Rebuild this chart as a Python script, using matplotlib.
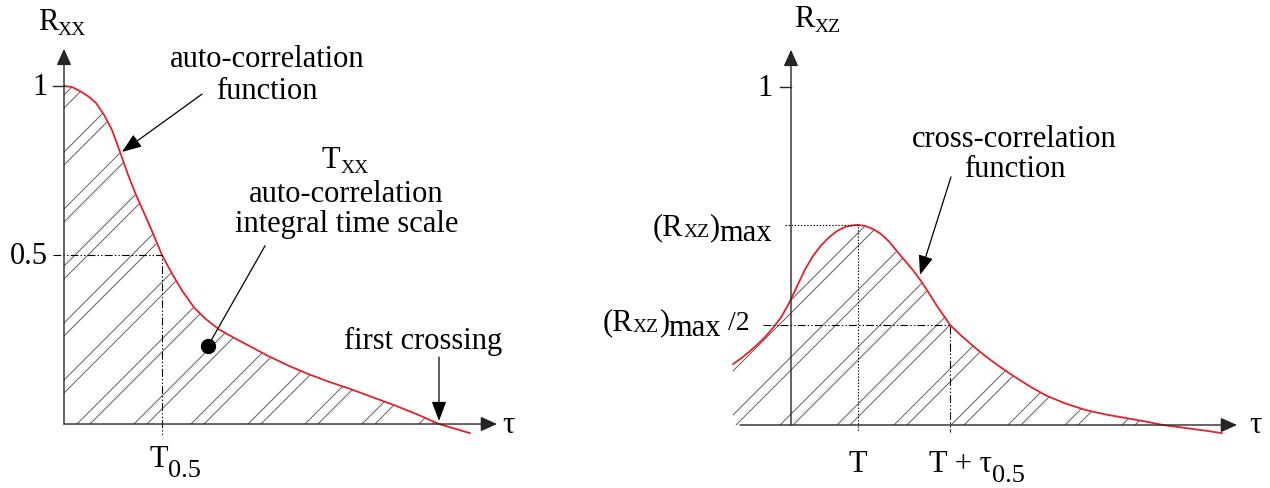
import numpy as np
import matplotlib
matplotlib.use("Agg")
import matplotlib.pyplot as plt
from matplotlib.patches import Polygon
from matplotlib.transforms import offset_copy

plt.rcParams["font.family"] = ["Liberation Serif", "DejaVu Serif"]

# auto-correlation R_xx(tau)
tau_xx = [0.0, 0.08, 0.16, 0.24, 0.32, 0.40, 0.48, 0.56, 0.64, 0.72, 0.80,
          0.88, 0.98, 1.08, 1.18, 1.30, 1.42, 1.55, 1.70, 1.86, 2.05, 2.25,
          2.45, 2.65, 2.86, 3.08, 3.30, 3.52, 3.75, 3.90, 4.06]
r_xx = [1.0, 0.997, 0.985, 0.97, 0.95, 0.915, 0.87, 0.805, 0.738, 0.678, 0.625,
        0.571, 0.50, 0.445, 0.395, 0.345, 0.31, 0.28, 0.255, 0.23, 0.20, 0.172,
        0.147, 0.125, 0.104, 0.08, 0.056, 0.03, 0.0, -0.013, -0.027]
t_half = 0.98          # T_0.5
first_cross = 3.75

# cross-correlation R_xz(tau)
tau_xz = [-0.58, -0.50, -0.42, -0.34, -0.26, -0.18, -0.10, -0.02, 0.06, 0.14,
          0.22, 0.30, 0.38, 0.46, 0.54, 0.62, 0.67, 0.74, 0.82, 0.90, 0.98,
          1.06, 1.14, 1.22, 1.30, 1.38, 1.46, 1.54, 1.59, 1.70, 1.82, 1.96,
          2.10, 2.24, 2.40, 2.56, 2.75, 2.95, 3.15, 3.36, 3.55, 3.72, 3.95,
          4.15, 4.31]
r_xz = [0.180, 0.197, 0.216, 0.237, 0.260, 0.287, 0.318, 0.360, 0.410, 0.460,
        0.500, 0.531, 0.555, 0.574, 0.586, 0.591, 0.592, 0.589, 0.580, 0.565,
        0.543, 0.514, 0.486, 0.458, 0.426, 0.390, 0.352, 0.318, 0.296, 0.265,
        0.234, 0.200, 0.170, 0.142, 0.112, 0.086, 0.063, 0.044, 0.031, 0.020,
        0.010, 0.000, -0.009, -0.017, -0.024]
t_peak = 0.67          # T
t_peak_half = 1.59     # T + tau_0.5

RED = "#e5202a"
AX = "#262626"
FS = 22
SUB = 14
DASHDOT = (0, (7, 2, 1.2, 2, 1.2, 2))
DOTTED = (0, (1.2, 1.6))

fig = plt.figure(figsize=(12.7, 4.89), dpi=100)
ax1 = fig.add_axes([0.0, 0.0, 0.5, 1.0])
ax2 = fig.add_axes([0.5, 0.0, 0.5, 1.0])
ax1.set_xlim(-0.64, 5.71)
ax1.set_ylim(-0.1893, 1.2574)
ax2.set_xlim(-1.56, 4.79)
ax2.set_ylim(-0.1864, 1.2604)
for ax in (ax1, ax2):
    ax.axis("off")
renderer = fig.canvas.get_renderer()

# 45 degree (on screen) hatch slope in data units
K = 100 / 338


def hatch(ax, x, y, start, period=0.57, gap=0.13):
    x = np.asarray(x)
    y = np.asarray(y)
    m = y >= 0
    xs, ys = x[m], y[m]
    verts = list(zip(xs, ys)) + [(xs[-1], 0), (xs[0], 0)]
    poly = Polygon(verts, closed=True, facecolor="none", edgecolor="none")
    ax.add_patch(poly)
    c = start
    while c > xs[0] - 1.1 / K:
        c -= period
    while c < xs[-1] + 0.1:
        for cc in (c, c + gap):
            x1 = cc + 1.3 / K
            ln, = ax.plot([cc, x1], [0, K * (x1 - cc)], color="#5e5e5e", lw=0.7)
            ln.set_clip_path(poly)
        c += period


def label(ax, x, y, parts, ha="left"):
    # parts: (text, fontsize, baseline shift in px)
    texts, widths = [], []
    for s, size, dy in parts:
        t = ax.text(x, y, s, fontsize=size, ha="left", va="baseline")
        texts.append(t)
        widths.append(t.get_window_extent(renderer).width)
    total = sum(widths)
    x0 = {"left": 0, "center": -total / 2, "right": -total}[ha]
    for t, w, (s, size, dy) in zip(texts, widths, parts):
        t.set_transform(offset_copy(ax.transData, fig=fig, x=x0, y=dy, units="dots"))
        x0 += w


def axis_arrow(ax, start, end):
    ax.annotate("", xy=end, xytext=start,
                arrowprops=dict(arrowstyle="-|>,head_length=10,head_width=4.5",
                                mutation_scale=1, color=AX, lw=1.0,
                                shrinkA=0, shrinkB=0))


def pointer(ax, tail, tip):
    ax.annotate("", xy=tip, xytext=tail,
                arrowprops=dict(arrowstyle="-|>,head_length=12,head_width=4.5",
                                mutation_scale=1, color="black", lw=0.9,
                                shrinkA=0, shrinkB=0))


# ---- left: auto-correlation ----
hatch(ax1, tau_xx, r_xx, start=-1.58)
axis_arrow(ax1, (0, 0), (0, 1.11))
axis_arrow(ax1, (0, 0), (4.33, 0))
ax1.plot(tau_xx, r_xx, color=RED, lw=1.3, solid_capstyle="round")
ax1.plot([-0.11, 0], [1, 1], color=AX, lw=1.0)
ax1.plot([-0.11, t_half, t_half], [0.5, 0.5, -0.035], color="black", lw=0.8, ls=DASHDOT)

ax1.text(-0.16, 1.0, "1", fontsize=FS, ha="right", va="center")
ax1.text(-0.16, 0.5, "0.5", fontsize=FS, ha="right", va="center")
label(ax1, -0.02, 1.17, [("R", FS, 0), ("XX", SUB, -5)], ha="center")
ax1.text(4.44, 0.0, "τ", fontsize=FS, ha="center", va="center")
label(ax1, 1.11, -0.125, [("T", FS, 0), ("0.5", 19, -10)], ha="center")

ax1.text(2.03, 1.06, "auto-correlation", fontsize=FS, ha="center", va="baseline")
ax1.text(2.03, 0.965, "function", fontsize=FS, ha="center", va="baseline")
pointer(ax1, (1.38, 0.976), (0.58, 0.805))

label(ax1, 2.81, 0.76, [("T", FS, 0), ("XX", SUB, -5)], ha="center")
ax1.text(2.82, 0.66, "auto-correlation", fontsize=FS, ha="center", va="baseline")
ax1.text(2.83, 0.571, "integral time scale", fontsize=FS, ha="center", va="baseline")
ax1.plot([2.01, 1.44], [0.527, 0.231], color="black", lw=0.9)
ax1.plot([1.44], [0.231], "o", color="black", ms=10)

ax1.text(3.59, 0.225, "first crossing", fontsize=FS, ha="center", va="baseline")
pointer(ax1, (first_cross, 0.198), (first_cross, 0.009))

# ---- right: cross-correlation ----
r_max = max(r_xz)
hatch(ax2, tau_xz, r_xz, start=-0.11)
axis_arrow(ax2, (0, 0), (0, 1.11))
axis_arrow(ax2, (-0.51, 0), (4.46, 0))
ax2.plot(tau_xz, r_xz, color=RED, lw=1.3, solid_capstyle="round")
ax2.plot([-0.11, 0], [1, 1], color=AX, lw=1.0)
ax2.plot([-0.06, t_peak, t_peak], [r_max, r_max, -0.02], color="black", lw=0.8, ls=DOTTED)
ax2.plot([-0.28, t_peak_half, t_peak_half], [r_max / 2, r_max / 2, -0.02],
         color="black", lw=0.8, ls=DASHDOT)

ax2.text(-0.18, 1.0, "1", fontsize=FS, ha="right", va="center")
label(ax2, 0.26, 1.18, [("R", FS, 0), ("XZ", SUB, -5)], ha="center")
ax2.text(4.64, 0.0, "τ", fontsize=FS, ha="center", va="center")
label(ax2, -0.19, 0.565,
      [("(R", FS, 0), ("XZ", SUB, -2), (")", FS, 0), ("max", FS, -6)], ha="right")
label(ax2, -0.41, 0.284,
      [("(R", FS, 0), ("XZ", SUB, -2), (")", FS, 0), ("max", FS, -6), (" /2", 20, 0)],
      ha="right")
ax2.text(t_peak, -0.136, "T", fontsize=FS, ha="center", va="baseline")
label(ax2, 1.86, -0.136, [("T + τ", FS, 0), ("0.5", 19, -10)], ha="center")

ax2.text(2.23, 0.825, "cross-correlation", fontsize=FS, ha="center", va="baseline")
ax2.text(2.24, 0.737, "function", fontsize=FS, ha="center", va="baseline")
pointer(ax2, (1.60, 0.734), (1.29, 0.444))

fig.savefig("out.png", dpi=100, facecolor="white")
